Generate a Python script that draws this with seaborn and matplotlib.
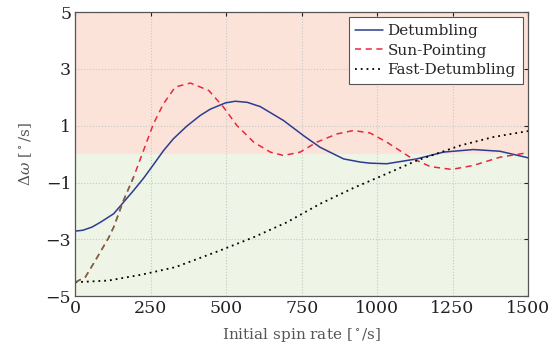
import numpy as np
import pandas as pd
import matplotlib
matplotlib.use("Agg")
import matplotlib.pyplot as plt
import seaborn as sns

# values
det_x = [0, 25, 55, 83, 127, 160, 193, 226, 259, 292, 325, 370, 414, 447, 497,
         530, 570, 613, 690, 756, 811, 889, 944, 977, 1032, 1131, 1220, 1319,
         1407, 1500]
det_y = [-2.71, -2.68, -2.57, -2.40, -2.10, -1.69, -1.28, -0.85, -0.37, 0.12,
         0.54, 0.99, 1.36, 1.58, 1.80, 1.86, 1.82, 1.67, 1.18, 0.65, 0.24, -0.17,
         -0.28, -0.32, -0.34, -0.17, 0.07, 0.16, 0.10, -0.13]

sun_x = [0, 33, 66, 110, 127, 160, 193, 226, 259, 292, 331, 381, 442, 491, 535,
         591, 646, 690, 745, 800, 867, 922, 977, 1032, 1109, 1176, 1247, 1319,
         1407, 1500]
sun_y = [-4.51, -4.33, -3.75, -2.95, -2.57, -1.62, -0.81, 0.13, 1.07, 1.77, 2.36,
         2.50, 2.24, 1.65, 1.01, 0.42, 0.07, -0.05, 0.07, 0.42, 0.71, 0.83, 0.74,
         0.42, -0.11, -0.44, -0.54, -0.40, -0.11, 0.05]

fast_x = [0, 110, 221, 331, 480, 590, 701, 811, 922, 1032, 1131, 1275, 1385, 1500]
fast_y = [-4.51, -4.45, -4.24, -3.98, -3.39, -2.93, -2.40, -1.75, -1.19, -0.69,
          -0.23, 0.30, 0.60, 0.81]

xticks = [0, 250, 500, 750, 1000, 1250, 1500]
yticks = [-5, -3, -1, 1, 3, 5]

sns.set_style("white")
plt.rcParams['font.family'] = ['DejaVu Serif']
plt.rcParams['mathtext.fontset'] = 'dejavuserif'

fig = plt.figure(figsize=(5.5, 3.53), dpi=100)
ax = fig.add_axes([0.137, 0.161, 0.823, 0.805])

# background regions
ax.axhspan(0, 5, color="#fce3d9", zorder=0, lw=0)
ax.axhspan(-5, 0, color="#eef4e6", zorder=0, lw=0)

df_det = pd.DataFrame({"x": det_x, "y": det_y})
df_sun = pd.DataFrame({"x": sun_x, "y": sun_y})
df_fast = pd.DataFrame({"x": fast_x, "y": fast_y})

sns.lineplot(data=df_det, x="x", y="y", ax=ax, color="#2b3d8f", lw=1.1,
             label="Detumbling", zorder=3)
sns.lineplot(data=df_sun, x="x", y="y", ax=ax, color="#e8283c", lw=1.1,
             label="Sun-Pointing", zorder=3)
sns.lineplot(data=df_fast, x="x", y="y", ax=ax, color="black", lw=1.3,
             label="Fast-Detumbling", zorder=3)
# lower part of the sun-pointing curve looks olive in the reference
sns.lineplot(data=df_sun[df_sun.x <= 193], x="x", y="y", ax=ax, color="#6f6c47",
             lw=1.1, legend=False, zorder=3.5)
ax.lines[1].set_dashes([4, 3])
ax.lines[3].set_dashes([4, 3])
ax.lines[2].set_dashes([1, 2.2])

ax.set_xlim(0, 1500)
ax.set_ylim(-5, 5)
ax.set_xticks(xticks)
ax.set_yticks(yticks)
ax.set_yticklabels([f"{t}".replace("-", "\u2212") for t in yticks])
ax.grid(True, color="#c8c8c8", ls=":", lw=0.8, zorder=1)
ax.set_axisbelow(True)
ax.tick_params(direction="in", length=3, top=True, right=True, labelsize=12.5,
               colors="#222222", pad=3)
for s in ax.spines.values():
    s.set_color("#555555")
    s.set_linewidth(0.9)
    s.set_zorder(4)

ax.set_xlabel(r"Initial spin rate [$^\circ$/s]", fontsize=11, color="#555555",
              labelpad=6)
ax.set_ylabel(r"$\Delta\omega$ [$^\circ$/s]", fontsize=11, color="#555555",
              labelpad=8)

leg = ax.legend(loc="upper right", fontsize=11, frameon=True, fancybox=False,
                edgecolor="#555555", framealpha=1, borderpad=0.45,
                labelspacing=0.35, handlelength=1.8, handletextpad=0.3,
                borderaxespad=0.35)
leg.get_frame().set_linewidth(0.8)

fig.savefig("out.png", dpi=100)
